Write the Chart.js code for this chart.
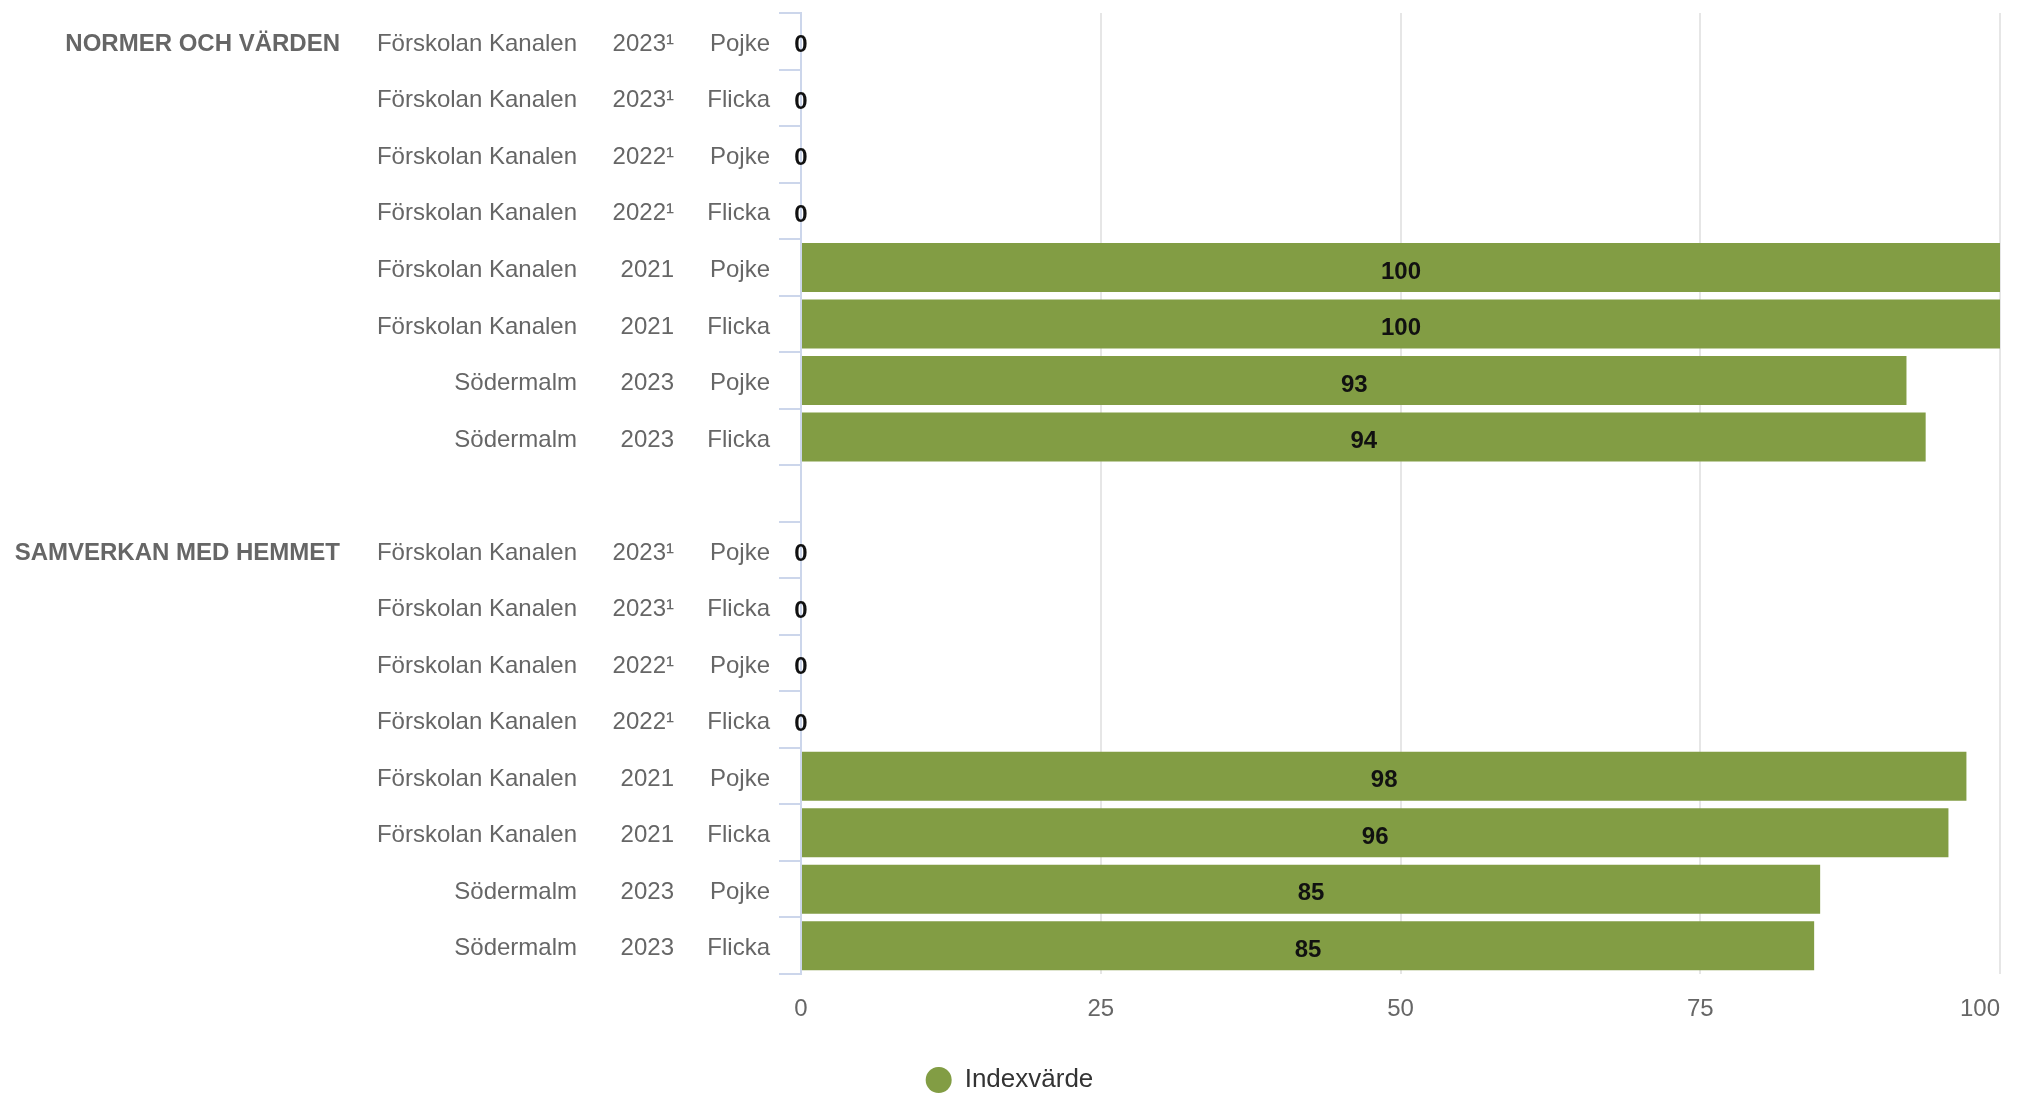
<!DOCTYPE html>
<html>
<head>
<meta charset="utf-8">
<script src="https://cdn.jsdelivr.net/npm/chart.js@4"></script>
<style>
html,body{margin:0;padding:0;background:#ffffff;overflow:hidden}
canvas{display:block}
</style>
</head>
<body>
<canvas id="c" width="2019" height="1094"></canvas>
<script>
// ---- data ----
const groups = ['NORMER OCH VÄRDEN', 'SAMVERKAN MED HEMMET'];
const units = ['Förskolan Kanalen', 'Förskolan Kanalen', 'Förskolan Kanalen', 'Förskolan Kanalen',
               'Förskolan Kanalen', 'Förskolan Kanalen', 'Södermalm', 'Södermalm'];
const years = ['2023¹', '2023¹', '2022¹', '2022¹', '2021', '2021', '2023', '2023'];
const genders = ['Pojke', 'Flicka', 'Pojke', 'Flicka', 'Pojke', 'Flicka', 'Pojke', 'Flicka'];
const normerValues = [0, 0, 0, 0, 100, 100, 92.2, 93.8];
const samverkanValues = [0, 0, 0, 0, 97.2, 95.7, 85.0, 84.5];
const normerLabels = ['0', '0', '0', '0', '100', '100', '93', '94'];
const samverkanLabels = ['0', '0', '0', '0', '98', '96', '85', '85'];
const xTicks = [0, 25, 50, 75, 100];
const seriesName = 'Indexvärde';

// ---- build category table (blank row between the groups) ----
const groupCol = [], unitCol = [], yearCol = [], genderCol = [], values = [], valueLabels = [];
[[normerValues, normerLabels], [samverkanValues, samverkanLabels]].forEach(([vals, labs], g) => {
  if (g > 0) {
    groupCol.push(''); unitCol.push(''); yearCol.push(''); genderCol.push('');
    values.push(null); valueLabels.push(null);
  }
  vals.forEach((v, i) => {
    groupCol.push(i === 0 ? groups[g] : '');
    unitCol.push(units[i]);
    yearCol.push(years[i]);
    genderCol.push(genders[i]);
    values.push(v);
    valueLabels.push(labs[i]);
  });
});

const FONT = "'Liberation Sans', Arial, Helvetica, sans-serif";
const labelFont = {family: FONT, size: 24};

const dataLabelPlugin = {
  id: 'dataLabels',
  afterDatasetsDraw(chart) {
    const ctx = chart.ctx;
    const meta = chart.getDatasetMeta(0);
    ctx.save();
    ctx.font = 'bold 24px ' + FONT;
    ctx.fillStyle = '#111111';
    ctx.textAlign = 'center';
    ctx.textBaseline = 'middle';
    meta.data.forEach((el, i) => {
      const t = valueLabels[i];
      if (t === null || values[i] === null) return;
      const p = el.getProps(['x', 'y', 'base'], true);
      ctx.fillText(t, (p.x + p.base) / 2, p.y + 4.5);
    });
    ctx.restore();
  }
};

// keep the last x tick label inside the plot (right-aligned at its tick)
const lastTickAlign = {
  id: 'lastTickAlign',
  beforeDraw(chart) {
    const s = chart.scales.x;
    const items = s.getLabelItems(chart.chartArea);
    const last = items[items.length - 1];
    if (last) last.options.textAlign = 'right';
  }
};

function fixY(width) {
  return s => { s.width = width; s.paddingTop = 0; s.paddingBottom = 0; };
}

new Chart(document.getElementById('c'), {
  type: 'bar',
  data: {
    labels: genderCol,
    datasets: [{
      label: seriesName,
      data: values,
      backgroundColor: '#829d44',
      borderWidth: 0,
      barPercentage: 0.867,
      categoryPercentage: 1
    }]
  },
  options: {
    indexAxis: 'y',
    responsive: false,
    devicePixelRatio: 1,
    animation: false,
    layout: {padding: {top: 13, left: 0, right: 0, bottom: -9}},
    plugins: {
      legend: {
        position: 'bottom',
        labels: {
          usePointStyle: true,
          pointStyle: 'circle',
          boxHeight: 18.4,
          pointStyleWidth: 26,
          padding: 0,
          color: '#333333',
          font: {family: FONT, size: 26}
        }
      },
      tooltip: {enabled: false}
    },
    scales: {
      x: {
        type: 'linear',
        position: 'bottom',
        min: 0,
        max: 100,
        afterBuildTicks: s => { s.ticks = xTicks.map(v => ({value: v})); },
        grid: {
          color: c => (c.tick && c.tick.value === 0) ? 'rgba(0,0,0,0)' : '#e6e6e6',
          lineWidth: 2,
          drawTicks: false
        },
        border: {display: false},
        ticks: {padding: 21, color: '#666666', font: labelFont, maxRotation: 0},
        afterFit: s => { s.height = 93; s.paddingRight = 19; s.paddingLeft = 0; }
      },
      y: {
        type: 'category',
        position: 'left',
        weight: 0,
        offset: true,
        grid: {offset: true, drawOnChartArea: false, drawTicks: true, tickLength: 22, color: '#ccd6eb', lineWidth: 2},
        border: {display: true, color: '#ccd6eb', width: 2},
        ticks: {padding: 9, labelOffset: 3, color: '#666666', font: labelFont, autoSkip: false},
        afterFit: fixY(127)
      },
      yYear: {
        type: 'category',
        position: 'left',
        weight: 1,
        labels: yearCol,
        offset: true,
        grid: {display: false, drawTicks: false, offset: true},
        border: {display: false},
        ticks: {padding: 0, labelOffset: 3, color: '#666666', font: labelFont, autoSkip: false},
        afterFit: fixY(97)
      },
      yUnit: {
        type: 'category',
        position: 'left',
        weight: 2,
        labels: unitCol,
        offset: true,
        grid: {display: false, drawTicks: false, offset: true},
        border: {display: false},
        ticks: {padding: 0, labelOffset: 3, color: '#666666', font: labelFont, autoSkip: false},
        afterFit: fixY(237)
      },
      yGroup: {
        type: 'category',
        position: 'left',
        weight: 3,
        labels: groupCol,
        offset: true,
        grid: {display: false, drawTicks: false, offset: true},
        border: {display: false},
        ticks: {padding: 0, labelOffset: 3, color: '#666666', font: {family: FONT, size: 24, weight: 'bold'}, autoSkip: false},
        afterFit: fixY(340)
      }
    }
  },
  plugins: [dataLabelPlugin, lastTickAlign]
});
</script>
</body>
</html>
